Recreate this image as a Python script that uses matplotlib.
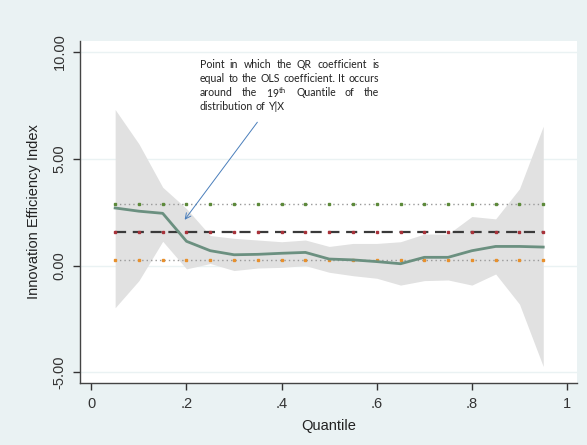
import numpy as np
import matplotlib
matplotlib.use("Agg")
import matplotlib.pyplot as plt

# quantile regression coefficients
quantiles = [0.05, 0.10, 0.15, 0.20, 0.25, 0.30, 0.35, 0.40, 0.45, 0.50,
             0.55, 0.60, 0.65, 0.70, 0.75, 0.80, 0.85, 0.90, 0.95]
qr_coef = [2.70, 2.55, 2.45, 1.14, 0.70, 0.51, 0.53, 0.58, 0.62, 0.31,
           0.27, 0.19, 0.09, 0.39, 0.39, 0.70, 0.90, 0.90, 0.87]
ci_upper = [7.31, 5.70, 3.67, 2.67, 1.41, 1.28, 1.20, 1.12, 1.20, 0.90,
            1.04, 1.04, 1.12, 1.48, 1.48, 2.30, 2.19, 3.60, 6.53]
ci_lower = [-1.97, -0.70, 1.14, -0.15, 0.10, -0.23, -0.11, -0.08, 0.00, -0.31,
            -0.47, -0.59, -0.91, -0.70, -0.67, -0.91, -0.39, -1.80, -4.72]
ols_coef = 1.56
ols_upper = 2.87
ols_lower = 0.25

x_ticks = [0, 0.2, 0.4, 0.6, 0.8, 1.0]
x_ticklabels = ["0", ".2", ".4", ".6", ".8", "1"]
y_ticks = [-5, 0, 5, 10]
y_ticklabels = ["-5.00", "0.00", "5.00", "10.00"]

note_lines = [
    "Point in which the QR coefficient is",
    "equal to the OLS coefficient. It occurs",
    "around the 19$^{\\mathrm{th}}$ Quantile of the",
    "distribution of Y|X",
]

BG = "#eaf2f3"
plt.rcParams["font.family"] = ["Liberation Sans", "DejaVu Sans"]
plt.rcParams["mathtext.fontset"] = "custom"
plt.rcParams["mathtext.rm"] = "Lato"

fig = plt.figure(figsize=(5.87, 4.45), dpi=100, facecolor=BG)
ax = fig.add_axes([0.137, 0.139, 0.846, 0.769])
ax.set_facecolor("white")

for yv in y_ticks:
    ax.axhline(yv, color=BG, lw=1.0, zorder=0)

ax.fill_between(quantiles, ci_lower, ci_upper, color="#e1e1e1", lw=0, zorder=1)

n = len(quantiles)
ax.plot(quantiles, [ols_upper] * n, color="#999999", ls=(0, (1, 2.2)), lw=1.0, zorder=2)
ax.plot(quantiles, [ols_upper] * n, ls="none", marker="s", ms=1.6, color="#5d8a3a", zorder=3)
ax.plot(quantiles, [ols_lower] * n, color="#999999", ls=(0, (1, 2.2)), lw=1.0, zorder=2)
ax.plot(quantiles, [ols_lower] * n, ls="none", marker="s", ms=1.6, color="#e8902c", zorder=3)
ax.plot(quantiles, [ols_coef] * n, color="#3a3a3a", ls=(0, (5, 3)), lw=1.6, zorder=2)
ax.plot(quantiles, [ols_coef] * n, ls="none", marker="s", ms=1.6, color="#a8323a", zorder=3)

ax.plot(quantiles, qr_coef, color="#6b9080", lw=2.0, zorder=4)

ax.set_xlim(-0.023, 1.021)
ax.set_ylim(-5.5, 10.52)
ax.set_xticks(x_ticks)
ax.set_xticklabels(x_ticklabels)
ax.set_yticks(y_ticks)
ax.set_yticklabels(y_ticklabels, rotation=90, va="center")
ax.tick_params(colors="#333333", labelsize=10.5, length=5, width=1, pad=5)
ax.set_xlabel("Quantile", fontsize=10.5, color="#222222", labelpad=6)
ax.set_ylabel("Innovation Efficiency Index", fontsize=10.5, color="#222222", labelpad=8)

for side in ["top", "right"]:
    ax.spines[side].set_visible(False)
for side in ["left", "bottom"]:
    ax.spines[side].set_color("#444444")
    ax.spines[side].set_linewidth(1.0)

# annotation arrow (pixel positions of the original note)
W, H = 587, 445
ax.annotate("", xy=(183 / W, 1 - 222 / H), xycoords="figure fraction",
            xytext=(259 / W, 1 - 120 / H), textcoords="figure fraction",
            arrowprops=dict(arrowstyle="->", color="#4a7ebb", lw=0.7,
                            mutation_scale=10), zorder=5)

# justified note text
NOTE_FONT = dict(fontsize=7.6, family=["Lato", "DejaVu Sans"], color="#222222")
fig.canvas.draw()
renderer = fig.canvas.get_renderer()
left_px, right_px = 200, 379
line_y = [65, 79, 93, 107]
probe = fig.text(0, 0, "a", **NOTE_FONT)
probe2 = fig.text(0, 0, "a a", **NOTE_FONT)
space_w = probe2.get_window_extent(renderer).width - 2 * probe.get_window_extent(renderer).width
probe.remove()
probe2.remove()
for i, line in enumerate(note_lines):
    words = line.split(" ")
    y = 1 - line_y[i] / H
    texts = [fig.text(0, y, w, va="center", ha="left", **NOTE_FONT) for w in words]
    widths = [t.get_window_extent(renderer).width for t in texts]
    if i == len(note_lines) - 1:
        gap = max(space_w, 2.5)
    else:
        gap = (right_px - left_px - sum(widths)) / (len(words) - 1)
    x = left_px
    for t, w in zip(texts, widths):
        t.set_x(x / W)
        x += w + gap

fig.savefig("out.png", dpi=100, facecolor=BG)
